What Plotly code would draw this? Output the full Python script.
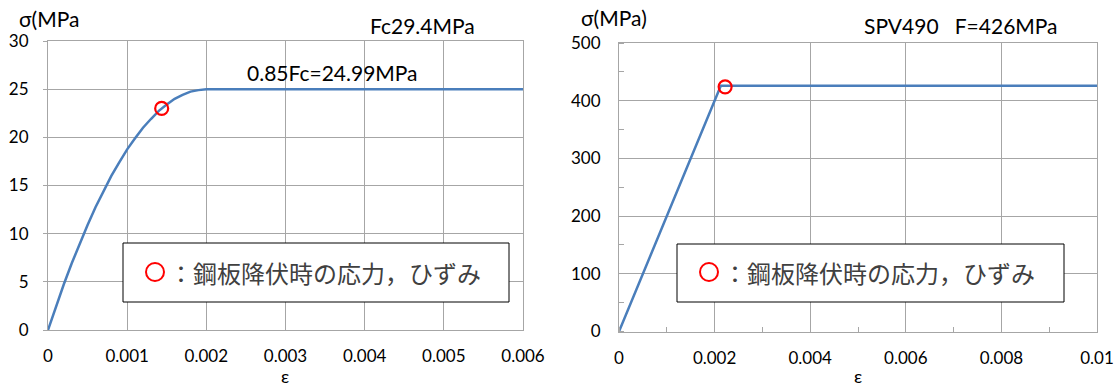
import plotly.graph_objects as go

# ---- data ----
conc_strain = [0, 0.0001, 0.0002, 0.0003, 0.0004, 0.0005, 0.0006, 0.0007, 0.0008, 0.0009,
               0.001, 0.0011, 0.0012, 0.0013, 0.0014, 0.0015, 0.0016, 0.0017, 0.0018,
               0.0019, 0.002, 0.006]
conc_stress = [0, 2.44, 4.75, 6.93, 9.0, 10.9, 12.75, 14.4, 16.0, 17.4,
               18.75, 19.9, 21.0, 21.9, 22.75, 23.4, 24.0, 24.4, 24.75,
               24.9, 24.99, 24.99]
conc_yield_strain = [0.001436]
conc_yield_stress = [23.0]

steel_strain = [0, 0.00213, 0.01]
steel_stress = [0, 426, 426]
steel_yield_strain = [0.00222]
steel_yield_stress = [424]

left_xticks = [0, 0.001, 0.002, 0.003, 0.004, 0.005, 0.006]
left_xlabels = ["0", "0.001", "0.002", "0.003", "0.004", "0.005", "0.006"]
left_yticks = [0, 5, 10, 15, 20, 25, 30]
right_xticks = [0, 0.002, 0.004, 0.006, 0.008, 0.01]
right_xlabels = ["0", "0.002", "0.004", "0.006", "0.008", "0.01"]
right_yticks = [0, 100, 200, 300, 400, 500]

legend_text = "：鋼板降伏時の応力，ひずみ"

W, H = 1118, 386
LINE = "#4A7EBB"
GRID = "#A6A6A6"
FONT = "Lato, 'Open Sans', sans-serif"
CJK = "'Noto Sans CJK JP', sans-serif"

def px(x):
    return x / W

def py(y):
    return (H - y) / H

fig = go.Figure()
fig.add_trace(go.Scatter(x=conc_strain, y=conc_stress, mode="lines",
                         line=dict(color=LINE, width=2.5), xaxis="x", yaxis="y",
                         showlegend=False))
fig.add_trace(go.Scatter(x=conc_yield_strain, y=conc_yield_stress, mode="markers",
                         marker=dict(symbol="circle-open", size=13, color="#FF0000",
                                     line=dict(width=2.2, color="#FF0000")),
                         xaxis="x", yaxis="y", showlegend=False))
fig.add_trace(go.Scatter(x=steel_strain, y=steel_stress, mode="lines",
                         line=dict(color=LINE, width=2.5), xaxis="x2", yaxis="y2",
                         showlegend=False))
fig.add_trace(go.Scatter(x=steel_yield_strain, y=steel_yield_stress, mode="markers",
                         marker=dict(symbol="circle-open", size=13, color="#FF0000",
                                     line=dict(width=2.2, color="#FF0000")),
                         xaxis="x2", yaxis="y2", showlegend=False))

tickfont = dict(family=FONT, size=17, color="#000000")

axis_common = dict(showgrid=True, gridcolor=GRID, gridwidth=1, showline=True,
                   linecolor=GRID, linewidth=1, mirror=True, zeroline=False,
                   tickfont=tickfont, fixedrange=True, automargin=False,
                   ticklabeloverflow="allow")

fig.update_layout(
    template="none",
    width=W, height=H,
    margin=dict(l=0, r=0, t=0, b=0),
    paper_bgcolor="white", plot_bgcolor="white",
    xaxis=dict(domain=[px(48), px(523)], range=[0, 0.006], tickvals=left_xticks,
               ticktext=left_xlabels, anchor="y", ticks="", ticklabelstandoff=11,
               **axis_common),
    yaxis=dict(domain=[py(330), py(41)], range=[0, 30], tickvals=left_yticks,
               anchor="x", ticks="outside", ticklen=4, tickcolor=GRID,
               ticklabelstandoff=11, **axis_common),
    xaxis2=dict(domain=[px(619), px(1097)], range=[0, 0.01], tickvals=right_xticks,
                ticktext=right_xlabels, anchor="y2", ticks="", ticklabelstandoff=11,
                minor=dict(dtick=0.001, ticks="inside", ticklen=5, tickcolor=GRID,
                           showgrid=False),
                **axis_common),
    yaxis2=dict(domain=[py(331.5), py(43)], range=[0, 500], tickvals=right_yticks,
                anchor="x2", ticks="", ticklabelstandoff=14,
                minor=dict(dtick=50, ticks="inside", ticklen=5, tickcolor=GRID,
                           showgrid=False),
                **axis_common),
)

annotations = [
    dict(text="σ(MPa", x=px(18), y=py(19), xanchor="left", yanchor="middle"),
    dict(text="Fc29.4MPa", x=px(369), y=py(25), xanchor="left", yanchor="middle"),
    dict(text="0.85Fc=24.99MPa", x=px(246), y=py(72), xanchor="left", yanchor="middle"),
    dict(text="σ(MPa)", x=px(580), y=py(17), xanchor="left", yanchor="middle"),
    dict(text="SPV490\u00a0\u00a0\u00a0F=426MPa", x=px(863), y=py(25), xanchor="left",
         yanchor="middle"),
]
for a in annotations:
    a.update(font=dict(family=FONT, size=21, color="#000000"))
annotations += [
    dict(text="ε", x=px(285), y=py(376), xanchor="center", yanchor="middle",
         font=dict(family=FONT, size=18, color="#000000")),
    dict(text="ε", x=px(858), y=py(376), xanchor="center", yanchor="middle",
         font=dict(family=FONT, size=18, color="#000000")),
]
for a in annotations:
    a.update(xref="paper", yref="paper", showarrow=False, borderpad=0)

# legend-like boxes
boxes = [(123, 243, 509, 302, 155, 272), (677, 244, 1064, 302, 709, 272)]
shapes = []
for (x0, y0, x1, y1, cx, cy) in boxes:
    shapes.append(dict(type="rect", xref="paper", yref="paper",
                       x0=px(x0), x1=px(x1), y0=py(y1), y1=py(y0),
                       line=dict(color="#000000", width=1), fillcolor="white",
                       layer="above"))
    shapes.append(dict(type="circle", xref="paper", yref="paper",
                       x0=px(cx - 9), x1=px(cx + 9), y0=py(cy + 9), y1=py(cy - 9),
                       line=dict(color="#FF0000", width=2), layer="above"))
    annotations.append(dict(text=legend_text, xref="paper", yref="paper",
                            x=px(cx + 12), y=py(cy), xanchor="left", yanchor="middle",
                            showarrow=False,
                            font=dict(family=CJK, size=24, color="#404040")))

fig.update_layout(annotations=annotations, shapes=shapes)

# remove the browser's default 8px body margin so the figure fills the window
fig.write_html("out.html", config={"displayModeBar": False},
               post_script="document.body.style.margin='0';")
